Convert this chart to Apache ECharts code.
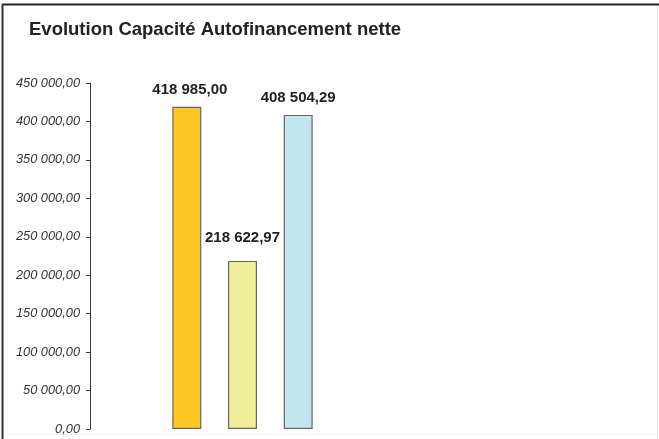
<!DOCTYPE html>
<html>
<head>
<meta charset="utf-8">
<script src="https://cdn.jsdelivr.net/npm/echarts@6/dist/echarts.min.js"></script>
<style>
html,body{margin:0;padding:0;background:#fff;}
#c{width:659px;height:439px;}
</style>
</head>
<body>
<div id="c"></div>
<script>
var titleText = 'Evolution Capacité Autofinancement nette';
var categories = [''];
var seriesNames = ['Série 1', 'Série 2', 'Série 3'];
var seriesValues = [[418985.00], [218622.97], [408504.29]];
var seriesColors = ['#FFC726', '#F1EE9A', '#C3E6EE'];
var yTicks = [0, 50000, 100000, 150000, 200000, 250000, 300000, 350000, 400000, 450000];

function fmt(v) {
  var s = v.toFixed(2).split('.');
  var intPart = s[0].replace(/\B(?=(\d{3})+(?!\d))/g, ' ');
  return intPart + ',' + s[1];
}

var labelDist = [9, 16, 10];
var labelOff = [[3, 0], [0, 0], [0, 0]];

var chart = echarts.init(document.getElementById('c'), null, {renderer: 'canvas'});
var series = seriesNames.map(function (n, i) {
  return {
    name: n,
    type: 'bar',
    data: seriesValues[i],
    barWidth: 29,
    barGap: '92%',
    itemStyle: {color: seriesColors[i], borderColor: '#666', borderWidth: 1.2},
    label: {
      show: true,
      position: 'top',
      distance: labelDist[i],
      offset: labelOff[i],
      formatter: function (p) { return fmt(p.value); },
      fontFamily: 'Liberation Sans, Arial, sans-serif',
      fontWeight: 'bold',
      fontSize: 15,
      color: '#222'
    },
    animation: false
  };
});

chart.setOption({
  animation: false,
  backgroundColor: '#fff',
  title: {
    text: titleText,
    left: 24,
    top: 15,
    textStyle: {fontFamily: 'Liberation Sans, Arial, sans-serif', fontWeight: 'bold', fontSize: 18.5, color: '#222'}
  },
  graphic: [
    {type: 'line', shape: {x1: 2, y1: 4.5, x2: 659, y2: 4.5}, style: {stroke: '#222', lineWidth: 2}},
    {type: 'line', shape: {x1: 2.5, y1: 4, x2: 2.5, y2: 439}, style: {stroke: '#333', lineWidth: 2}},
    {type: 'line', shape: {x1: 657.5, y1: 6, x2: 657.5, y2: 439}, style: {stroke: '#e2e2e2', lineWidth: 1}},
    {type: 'line', shape: {x1: 4, y1: 434.5, x2: 657, y2: 434.5}, style: {stroke: '#f2f2f2', lineWidth: 1}}
  ],
  grid: {left: 90, right: 264, top: 83, bottom: 10, containLabel: false},
  xAxis: {
    type: 'category',
    data: categories,
    axisLine: {show: false},
    axisTick: {show: false},
    axisLabel: {show: false}
  },
  yAxis: {
    type: 'value',
    min: yTicks[0],
    max: yTicks[yTicks.length - 1],
    interval: yTicks[1] - yTicks[0],
    axisLine: {show: true, lineStyle: {color: '#333', width: 1}},
    axisTick: {show: true, length: 4, lineStyle: {color: '#333'}},
    splitLine: {show: false},
    axisLabel: {
      margin: 10,
      padding: [0, 0, 5, 0],
      formatter: function (v) { return fmt(v); },
      fontFamily: 'Liberation Sans, Arial, sans-serif',
      fontStyle: 'italic',
      fontSize: 12.8,
      color: '#333'
    }
  },
  series: series
});
</script>
</body>
</html>
